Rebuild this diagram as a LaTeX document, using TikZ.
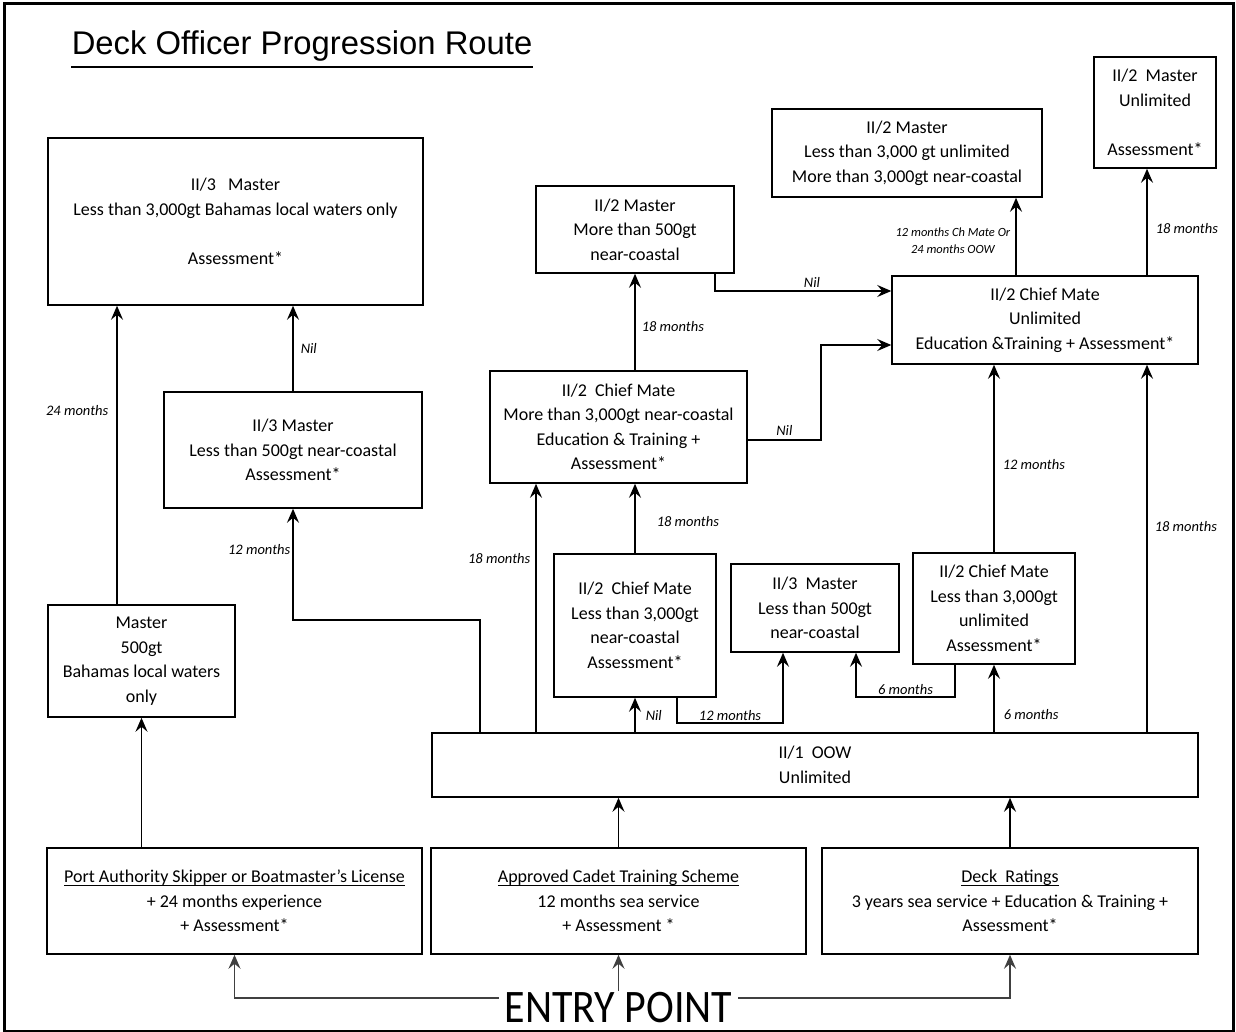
\documentclass[tikz,border=0pt]{standalone}
\usepackage{fontspec}
\setmainfont{Carlito}
\newfontfamily\titlefont{Liberation Sans}
\usetikzlibrary{arrows.meta}
\newcommand\undl[1]{\setbox0\hbox{#1}\rlap{\rule[-3.5pt]{\wd0}{1.3pt}}\box0}

\begin{document}
\begin{tikzpicture}[x=1pt, y=-1pt, line width=1.5pt,
  box/.style={draw, align=center, inner sep=0pt, font=\fontsize{18}{24.5}\selectfont},
  arr/.style={-{Stealth[length=14pt, width=12pt, inset=5pt]}},
  lbl/.style={inner sep=2pt, font=\fontsize{14.5}{17}\selectfont\itshape}]
\useasboundingbox (0,0) rectangle (1236,1032);
% frame and title
\draw[line width=3pt] (4,4) rectangle (1233,1031);
\node[inner sep=0pt, anchor=base west, font=\titlefont\fontsize{32.8}{36}\selectfont] (title) at (71,55) {Deck Officer Progression Route};
\draw[line width=2.5pt] ([yshift=-12pt]title.base west) -- ([yshift=-12pt]title.base east);

% boxes
\node[box, minimum width=375pt, minimum height=167pt] (m3lw) at (235.5,221.5) {II/3\ \ \ Master\\ Less than 3,000gt Bahamas local waters only\\[24.5pt] Assessment*};
\node[box, minimum width=258pt, minimum height=116pt] (m3nc) at (293,450) {II/3 Master\\ Less than 500gt near-coastal\\ Assessment*};
\node[box, minimum width=187pt, minimum height=112pt] (mlocal) at (141.5,661) {Master\\ 500gt\\ Bahamas local waters\\ only};
\node[box, minimum width=198pt, minimum height=87pt] (m2nc) at (635,229.5) {II/2 Master\\ More than 500gt\\ near-coastal};
\node[box, minimum width=270pt, minimum height=88pt] (m2lt) at (907,153) {II/2 Master\\ Less than 3,000 gt unlimited\\ More than 3,000gt near-coastal};
\node[box, minimum width=122pt, minimum height=111pt] (m2ul) at (1155,112.5) {II/2\ \ Master\\ Unlimited\\[24.5pt] Assessment*};
\node[box, minimum width=306pt, minimum height=88pt] (cmul) at (1045,320) {II/2 Chief Mate\\ Unlimited\\ Education \&Training + Assessment*};
\node[box, minimum width=257pt, minimum height=112pt] (cmnc) at (618.5,427) {II/2\ \ Chief Mate\\ More than 3,000gt near-coastal\\ Education \& Training +\\ Assessment*};
\node[box, minimum width=162pt, minimum height=143pt] (cmltnc) at (635,625.5) {II/2\ \ Chief Mate\\ Less than 3,000gt\\ near-coastal\\ Assessment*};
\node[box, minimum width=168pt, minimum height=88pt] (m3lt) at (815,608) {II/3\ \ Master\\ Less than 500gt\\ near-coastal};
\node[box, minimum width=162pt, minimum height=111pt] (cmltul) at (994,608.5) {II/2 Chief Mate\\ Less than 3,000gt\\ unlimited\\ Assessment*};
\node[box, minimum width=766pt, minimum height=64pt] (oow) at (815,765) {II/1\ \ OOW\\ Unlimited};
\node[box, minimum width=375pt, minimum height=106pt] (port) at (234.5,901) {\undl{Port Authority Skipper or Boatmaster’s License}\\ + 24 months experience\\ + Assessment*};
\node[box, minimum width=375pt, minimum height=106pt] (cadet) at (618.5,901) {\undl{Approved Cadet Training Scheme}\\ 12 months sea service\\ + Assessment *};
\node[box, minimum width=376pt, minimum height=106pt] (ratings) at (1010,901) {\undl{Deck\ \ Ratings}\\ 3 years sea service + Education \& Training +\\ Assessment*};
\node[inner xsep=5pt, inner ysep=0pt, anchor=base, font=\fontsize{46.6}{50}\selectfont] (entry) at (618.5,1022) {\scalebox{0.9}[1]{ENTRY POINT}};

% bend points
\coordinate (xA) at (117,0);
\coordinate (jB) at (480,620);
\coordinate (xH) at (536,0);
\coordinate (jD) at (715,291);
\coordinate (jH) at (821,440);
\coordinate (kH) at (821,345);
\coordinate (xE) at (1016,0);
\coordinate (xF) at (1147,0);
\coordinate (jI) at (677,723);
\coordinate (kI) at (783,723);
\coordinate (jK) at (955,697);
\coordinate (kK) at (856,697);

% left column
\draw[arr] (port.north -| mlocal.south) -- (mlocal.south);
\draw[arr] (mlocal.north -| xA) -- node[lbl, pos=0.65, left=6pt] {24 months} (m3lw.south -| xA);
\draw[arr] (m3nc.north) -- node[lbl, right=5pt] {Nil} (m3nc.north |- m3lw.south);
\draw[arr] (oow.north -| jB) -- (jB) -- (jB -| m3nc.south) -- node[lbl, pos=0.63, left=0pt] {12 months} (m3nc.south);

% middle
\draw[arr] (oow.north -| xH) -- node[lbl, pos=0.7, left=3pt] {18 months} (cmnc.south -| xH);
\draw[arr] (cmltnc.north) -- node[lbl, pos=0.46, right=19pt] {18 months} (cmltnc.north |- cmnc.south);
\draw[arr] (cmnc.north -| m2nc.south) -- node[lbl, pos=0.45, right=4pt] {18 months} (m2nc.south);
\draw[arr] (m2nc.south -| jD) -- (jD) -- node[lbl, pos=0.55, above=1pt] {Nil} (jD -| cmul.west);
\draw[arr] (jH -| cmnc.east) -- node[lbl, above=2pt] {Nil} (jH) -- (kH) -- (kH -| cmul.west);
\draw[arr] (oow.north -| cmltnc.south) -- node[lbl, right=8pt] {Nil} (cmltnc.south);
\draw[arr] (cmltnc.south -| jI) -- (jI) -- node[lbl, above=0pt] {12 months} (kI) -- (kI |- m3lt.south);
\draw[arr] (cmltul.south -| jK) -- (jK) -- node[lbl, above=0pt] {6 months} (kK) -- (kK |- m3lt.south);
\draw[arr] (oow.north -| cmltul.south) -- node[lbl, pos=0.26, right=7pt] {6 months} (cmltul.south);

% right column
\draw[arr] (cmltul.north) -- node[lbl, pos=0.47, right=6pt] {12 months} (cmltul.north |- cmul.south);
\draw[arr] (oow.north -| xF) -- node[lbl, pos=0.56, right=5pt] {18 months} (cmul.south -| xF);
\draw[arr] (cmul.north -| xE) -- node[lbl, pos=0.44, left=3pt, align=center, font=\fontsize{12.5}{17}\selectfont\itshape] {12 months Ch Mate Or\\ 24 months OOW} (m2lt.south -| xE);
\draw[arr] (cmul.north -| xF) -- node[lbl, pos=0.44, right=6pt] {18 months} (m2ul.south -| xF);

% entry
\draw[arr] (cadet.north) -- (cadet.north |- oow.south);
\draw[arr] (ratings.north) -- (ratings.north |- oow.south);
\draw[arr, black!75] ([yshift=9pt]entry.west) -| (port.south);
\draw[arr, black!75] (entry.north) -- (entry.north |- cadet.south);
\draw[arr, black!75] ([yshift=9pt]entry.east) -| (ratings.south);
\end{tikzpicture}
\end{document}
